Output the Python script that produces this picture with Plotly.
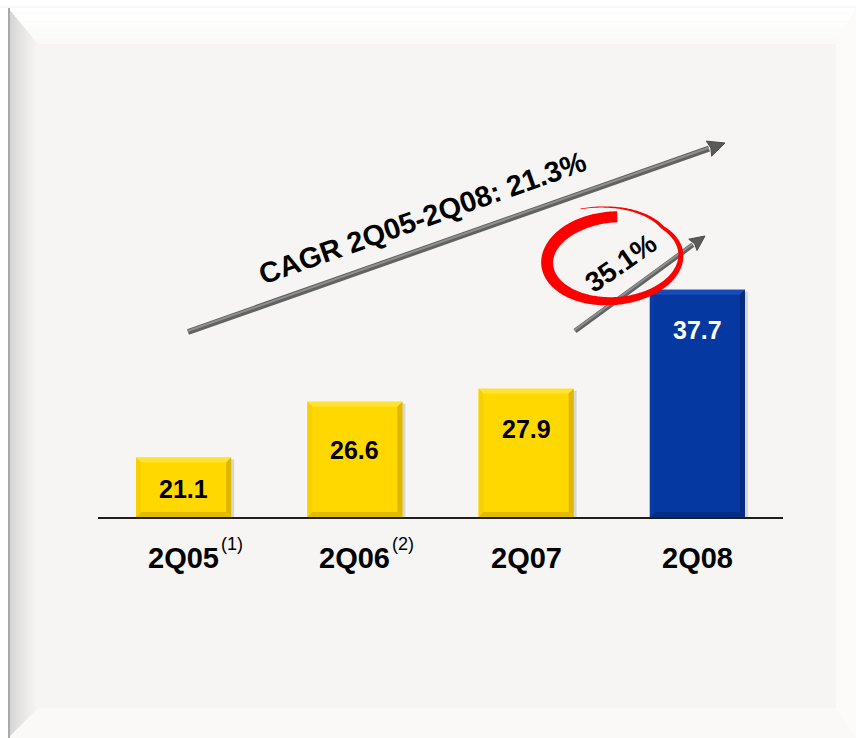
import numpy as np
import plotly.graph_objects as go

# ---- data ----
quarters = ["2Q05", "2Q06", "2Q07", "2Q08"]
footnotes = ["(1)", "(2)", "", ""]
revenue = [21.1, 26.6, 27.9, 37.7]
cagr_label = "CAGR 2Q05-2Q08: 21.3%"
yoy_label = "35.1%"

# ---- styling / layout constants ----
W, H = 856, 738
L, R, T, B = 98, 73, 40, 221
PW, PH = W - L - R, H - T - B
Y_LO = 15.2            # value at the baseline
PX_PER_UNIT = 10.1     # vertical scale
Y_HI = Y_LO + PH / PX_PER_UNIT
BAR_W = 0.555
PX_PER_CAT = PW / len(quarters)

FONT = "Arial, Liberation Sans, sans-serif"
face = ["#FFD800", "#FFD800", "#FFD800", "#0538A0"]
bevel_top = ["#FFE233", "#FFE233", "#FFE233", "#174BB8"]
bevel_left = ["#F7D000", "#F7D000", "#F7D000", "#073CA6"]
bevel_right = ["#DDB700", "#DDB700", "#DDB700", "#032C82"]
bevel_bot = ["#E3BC00", "#E3BC00", "#E3BC00", "#032E86"]
label_color = ["#000000", "#000000", "#000000", "#FFFFFF"]
label_drop_px = [32, 48, 40, 40]


def px(x):
    return (x - L) / PW


def py(y):
    return (H - B - y) / PH


def poly(points):
    return "M " + " L ".join(f"{px(x):.5f},{py(y):.5f}" for x, y in points) + " Z"


def mix(c1, c2, t):
    a = [int(c1[i:i + 2], 16) for i in (1, 3, 5)]
    b = [int(c2[i:i + 2], 16) for i in (1, 3, 5)]
    return "#" + "".join(f"{round(u + (v - u) * t):02x}" for u, v in zip(a, b))


shapes = []

# ---- bevelled backdrop panel ----
FX0, FY0, FX1, FY1 = 8, 8, 856, 738
IX0, IY0, IX1, IY1 = 38, 44, 836, 708
shapes.append(dict(type="path", path=poly([(FX0, FY0), (FX1, FY0), (FX1, FY1), (FX0, FY1)]),
                   xref="paper", yref="paper", fillcolor="#F6F5F3", line_width=0, layer="below"))
# top face
n = 8
for k in range(n):
    y0 = FY0 + (IY0 - FY0) * k / n
    y1 = FY0 + (IY0 - FY0) * (k + 1) / n
    f0 = (y0 - FY0) / (IY0 - FY0)
    f1 = (y1 - FY0) / (IY0 - FY0)
    pts = [(FX0 + (IX0 - FX0) * f0, y0), (FX1 - (FX1 - IX1) * f0, y0),
           (FX1 - (FX1 - IX1) * f1, y1), (FX0 + (IX0 - FX0) * f1, y1)]
    shapes.append(dict(type="path", path=poly(pts), xref="paper", yref="paper",
                       fillcolor=mix("#FFFFFF", "#FBFAF9", k / (n - 1)), line_width=0, layer="below"))
# bottom face
shapes.append(dict(type="path", path=poly([(FX0, FY1), (IX0, IY1), (IX1, IY1), (FX1, FY1)]),
                   xref="paper", yref="paper", fillcolor="#FAF9F8", line_width=0, layer="below"))
# right face
shapes.append(dict(type="path", path=poly([(FX1, FY0), (IX1, IY0), (IX1, IY1), (FX1, FY1)]),
                   xref="paper", yref="paper", fillcolor="#FCFBFA", line_width=0, layer="below"))
# left face: grey gradient
n = 15
for k in range(n):
    x0 = FX0 + (IX0 - FX0) * k / n
    x1 = FX0 + (IX0 - FX0) * (k + 1) / n
    f0 = (x0 - FX0) / (IX0 - FX0)
    f1 = (x1 - FX0) / (IX0 - FX0)
    pts = [(x0, FY0 + (IY0 - FY0) * f0), (x1, FY0 + (IY0 - FY0) * f1),
           (x1, FY1 - (FY1 - IY1) * f1), (x0, FY1 - (FY1 - IY1) * f0)]
    shapes.append(dict(type="path", path=poly(pts), xref="paper", yref="paper",
                       fillcolor=mix("#D2D2D2", "#F6F5F3", (k / (n - 1)) ** 0.8),
                       line_width=0, layer="below"))
shapes.append(dict(type="line", xref="paper", yref="paper", x0=px(FX0 + 1), x1=px(FX0 + 1),
                   y0=py(FY0), y1=py(FY1), line=dict(color="#A9A9A9", width=2), layer="below"))
shapes.append(dict(type="line", xref="paper", yref="paper", x0=px(0), x1=px(W),
                   y0=py(FY0 - 1), y1=py(FY0 - 1), line=dict(color="#EEEEEE", width=1), layer="below"))

# ---- bar shading (derived from the data values) ----
dx = 5 / PX_PER_CAT
dy = 5 / PX_PER_UNIT
sdx = 3 / PX_PER_CAT
sdy = 2 / PX_PER_UNIT
for i, v in enumerate(revenue):
    x0, x1 = i - BAR_W / 2, i + BAR_W / 2
    # soft drop shadow
    shapes.append(dict(type="rect", xref="x", yref="y", x0=x0 + sdx, x1=x1 + sdx,
                       y0=Y_LO - sdy, y1=v - sdy, fillcolor="rgba(80,80,80,0.18)", line_width=0,
                       layer="below"))
    bevels = [
        ([(x0, v), (x1, v), (x1 - dx, v - dy), (x0 + dx, v - dy)], bevel_top[i]),
        ([(x0, v), (x0 + dx, v - dy), (x0 + dx, Y_LO + dy), (x0, Y_LO)], bevel_left[i]),
        ([(x1, v), (x1 - dx, v - dy), (x1 - dx, Y_LO + dy), (x1, Y_LO)], bevel_right[i]),
        ([(x0, Y_LO), (x0 + dx, Y_LO + dy), (x1 - dx, Y_LO + dy), (x1, Y_LO)], bevel_bot[i]),
    ]
    for pts, col in bevels:
        path = "M " + " L ".join(f"{a:.5f},{b:.5f}" for a, b in pts) + " Z"
        shapes.append(dict(type="path", xref="x", yref="y", path=path, fillcolor=col,
                           line_width=0, layer="above"))


# ---- growth arrows ----
def arrow(x0, y0, x1, y1, width=6, head_len=17, head_half=8):
    ux, uy = x1 - x0, y1 - y0
    ln = np.hypot(ux, uy)
    ux, uy = ux / ln, uy / ln
    nx, ny = -uy, ux
    bx, by = x1 - head_len * ux, y1 - head_len * uy
    out = [
        dict(type="line", xref="paper", yref="paper", x0=px(x0), y0=py(y0), x1=px(bx), y1=py(by),
             line=dict(color="#626262", width=width), layer="above"),
        dict(type="line", xref="paper", yref="paper", x0=px(x0 - nx), y0=py(y0 - ny),
             x1=px(bx - nx), y1=py(by - ny), line=dict(color="#909090", width=2), layer="above"),
        dict(type="path", xref="paper", yref="paper",
             path=poly([(x1, y1), (bx + head_half * nx, by + head_half * ny),
                        (bx + 2 * ux, by + 2 * uy), (bx - head_half * nx, by - head_half * ny)]),
             fillcolor="#5A5A5A", line=dict(color="#4A4A4A", width=1), layer="above"),
    ]
    return out


shapes += arrow(188, 332, 725, 143)
shapes += arrow(575, 331, 705, 236, width=5, head_len=15, head_half=7)


# ---- hand-drawn red ring around the year-on-year figure ----
def ring():
    cx, cy, a, b = 614, 259, 67, 42
    phi = np.radians(-5)
    th = np.radians(np.linspace(-84, -469, 320))
    t = (np.radians(-84) - th) / np.radians(385)
    grow = 1 + np.clip((np.radians(-400) - th) / np.radians(69), 0, None) * 0.33
    w = np.interp(t, [0, .1, .25, .5, .75, .85, 1], [11, 12, 12, 7.5, 4.5, 3, .6])
    ex, ey = a * grow * np.cos(th), b * grow * np.sin(th)
    X = cx + ex * np.cos(phi) - ey * np.sin(phi)
    Y = cy + ex * np.sin(phi) + ey * np.cos(phi)
    gx, gy = np.gradient(X), np.gradient(Y)
    nn = np.hypot(gx, gy)
    nx, ny = -gy / nn, gx / nn
    side1 = list(zip(X + nx * w / 2, Y + ny * w / 2))
    side2 = list(zip(X - nx * w / 2, Y - ny * w / 2))
    return poly(side1 + side2[::-1])


shapes.append(dict(type="path", xref="paper", yref="paper", path=ring(),
                   fillcolor="#FF0000", line_width=0, layer="above"))

# ---- annotations ----
annotations = []
for i, v in enumerate(revenue):
    annotations.append(dict(x=i, y=v, xref="x", yref="y", text=f"<b>{v:.1f}</b>", showarrow=False,
                            yshift=-label_drop_px[i], yanchor="middle",
                            font=dict(family=FONT, size=25, color=label_color[i])))
    annotations.append(dict(x=i, y=Y_LO, xref="x", yref="y", text=f"<b>{quarters[i]}</b>",
                            showarrow=False, yshift=-41, yanchor="middle",
                            font=dict(family=FONT, size=29, color="#000000")))
    if footnotes[i]:
        annotations.append(dict(x=i, y=Y_LO, xref="x", yref="y", text=footnotes[i], showarrow=False,
                                xanchor="left", xshift=35, yshift=-27, yanchor="middle",
                                font=dict(family=FONT, size=18, color="#000000")))

annotations.append(dict(x=px(422), y=py(218), xref="paper", yref="paper", text=f"<b>{cagr_label}</b>",
                        showarrow=False, textangle=-19.5, xanchor="center", yanchor="middle",
                        font=dict(family=FONT, size=29, color="#000000")))
annotations.append(dict(x=px(620), y=py(263), xref="paper", yref="paper", text=f"<b>{yoy_label}</b>",
                        showarrow=False, textangle=-35, xanchor="center", yanchor="middle",
                        font=dict(family=FONT, size=28, color="#000000")))

fig = go.Figure(go.Bar(
    x=list(range(len(quarters))), y=[v - Y_LO for v in revenue], base=Y_LO,
    width=BAR_W, marker=dict(color=face, line=dict(width=0)),
    hoverinfo="skip",
))

fig.update_layout(
    width=W, height=H, margin=dict(l=L, r=R, t=T, b=B, pad=0),
    paper_bgcolor="#FFFFFF", plot_bgcolor="rgba(0,0,0,0)",
    showlegend=False, shapes=shapes, annotations=annotations,
    xaxis=dict(range=[-0.5, len(quarters) - 0.5], showgrid=False, zeroline=False,
               showticklabels=False, ticks="", showline=True, linecolor="#1E1E1E", linewidth=1.5),
    yaxis=dict(range=[Y_LO, Y_HI], showgrid=False, zeroline=False, showticklabels=False,
               ticks="", showline=False),
)

fig.write_html("out.html")
